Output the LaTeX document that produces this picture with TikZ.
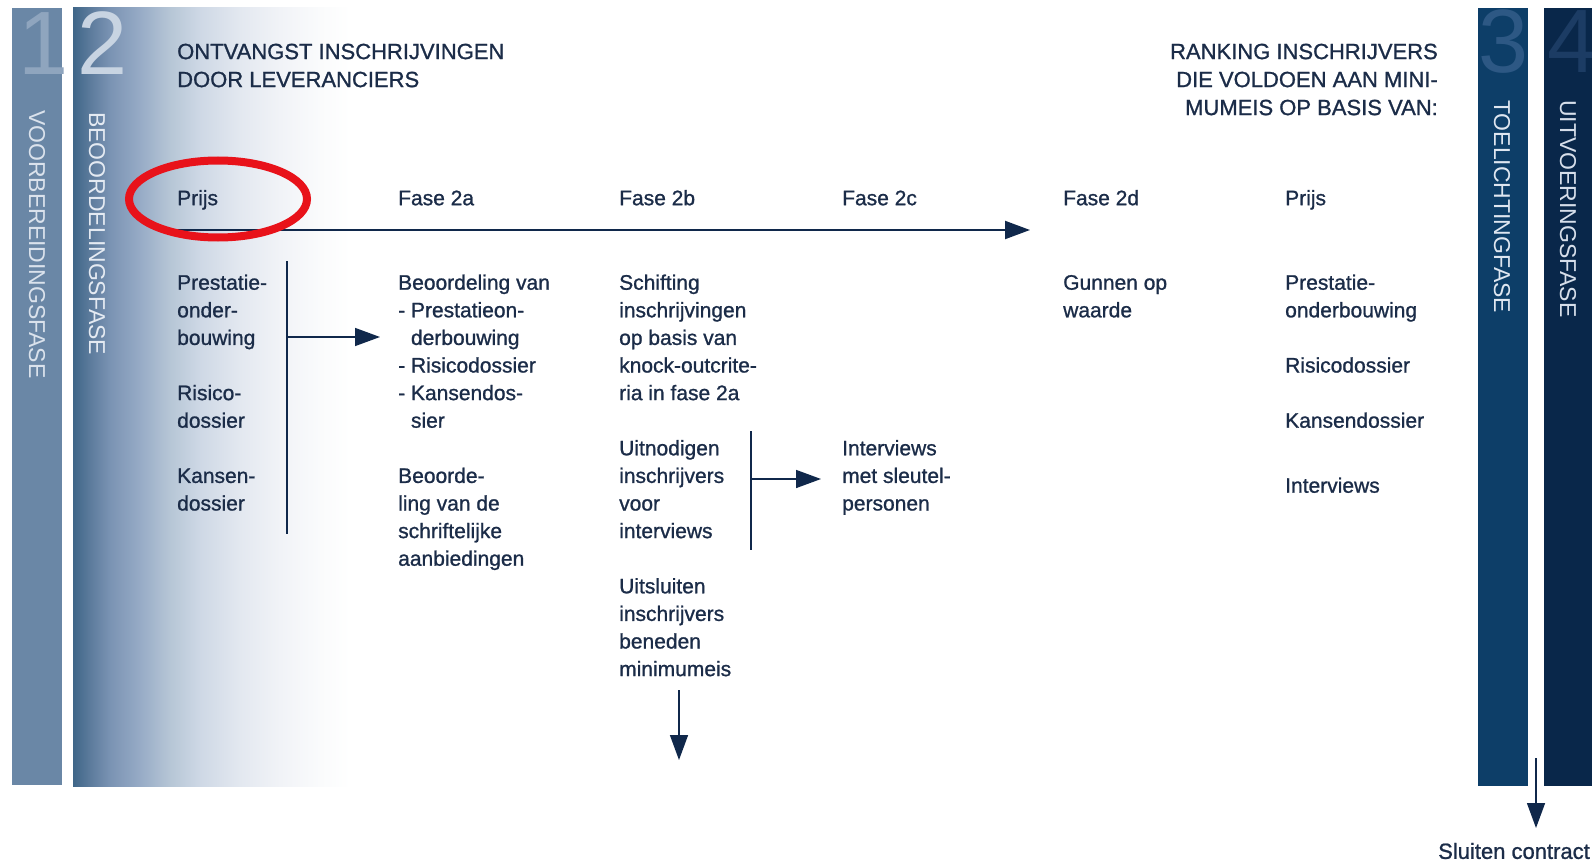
\documentclass[tikz,border=0pt]{standalone}
\usepackage{fontspec}
\setmainfont{Liberation Sans}
\newfontfamily\medfont[FakeBold=1]{Liberation Sans}
\usetikzlibrary{arrows.meta,shapes.geometric}
\definecolor{bar1}{RGB}{106,135,166}
\definecolor{bar3}{RGB}{13,62,104}
\definecolor{bar4}{RGB}{9,39,74}
\definecolor{d1}{RGB}{143,165,190}
\definecolor{d2}{RGB}{200,212,226}
\definecolor{d3}{RGB}{45,88,132}
\definecolor{d4}{RGB}{28,60,100}
\definecolor{s1}{RGB}{218,226,236}
\definecolor{s2}{RGB}{228,234,242}
\definecolor{s3}{RGB}{222,230,240}
\definecolor{s4}{RGB}{214,222,234}
\definecolor{txt}{RGB}{27,44,72}
\definecolor{arr}{RGB}{16,40,75}
\definecolor{mark}{RGB}{232,18,26}
\definecolor{g0}{RGB}{63,102,136}
\definecolor{g1}{RGB}{92,123,156}
\definecolor{g2}{RGB}{122,147,179}
\definecolor{g3}{RGB}{151,171,198}
\definecolor{g4}{RGB}{182,198,214}
\definecolor{g5}{RGB}{206,216,229}
\definecolor{g6}{RGB}{227,232,240}
\definecolor{g7}{RGB}{241,243,247}
\definecolor{g8}{RGB}{250,251,252}
\pgfdeclarehorizontalshading{bargrad}{100bp}{color(0bp)=(g0); color(25bp)=(g0); color(28.07bp)=(g1); color(31.68bp)=(g2); color(37.09bp)=(g3); color(42.51bp)=(g4); color(47.92bp)=(g5); color(55.14bp)=(g6); color(62.36bp)=(g7); color(69.58bp)=(g8); color(75bp)=(white); color(100bp)=(white)}
\begin{document}
\begin{tikzpicture}[x=1pt,y=-1pt,
  body/.style={font=\medfont\fontsize{21}{27.6}\selectfont, text=txt, inner sep=0pt, align=left, anchor=north west},
  head/.style={font=\medfont\fontsize{22}{28}\selectfont, text=txt, inner sep=0pt},
  spine/.style={font=\fontsize{23}{23}\selectfont, rotate=-90, anchor=west, inner sep=0pt},
  digit/.style={font=\fontsize{90}{90}\selectfont, anchor=base west, inner sep=0pt},
  conn/.style={draw=arr, line width=1.5pt},
  arrowline/.style={conn, -{Triangle[length=25pt,width=18pt]}},
]
\useasboundingbox (0,0) rectangle (1592,861);
\fill[white] (0,0) rectangle (1592,861);
% phase bars
\shade[shading=bargrad] (73,8) rectangle (350,786);
\fill[bar1] (12,8) rectangle (62,785);
\fill[bar3] (1478,8) rectangle (1528,786);
\fill[bar4] (1544,8) rectangle (1592,786);
% numerals
\begin{scope}
\clip (0,0) rectangle (1592,861);
\node[digit, text=d1] (n1) at (18,75) {1};
\node[digit, text=d2] (n2) at (77,75) {2};
\node[digit, text=d3] (n3) at (1478,73) {3};
\node[digit, text=d4] (n4) at (1547,73) {4};
\end{scope}
% spine labels
\node[spine, text=s1] (sp1) at (37,110) {VOORBEREIDINGSFASE};
\node[spine, text=s2] (sp2) at (97,112) {BEOORDELINGSFASE};
\node[spine, text=s3] (sp3) at (1502,100) {TOELICHTINGFASE};
\node[spine, text=s4] (sp4) at (1568,100) {UITVOERINGSFASE};
% headers
\node[head, align=left, anchor=north west] (hl) at (177,39.3) {\strut ONTVANGST INSCHRIJVINGEN\\DOOR LEVERANCIERS};
\node[head, align=right, anchor=north east] (hr) at (1438,39.3) {\strut RANKING INSCHRIJVERS\\DIE VOLDOEN AAN MINI-\\MUMEIS OP BASIS VAN:};
% phase row
\node[body] (p0) at (177,185.7) {\strut Prijs};
\node[body] (p2a) at (398,185.7) {\strut Fase 2a};
\node[body] (p2b) at (619,185.7) {\strut Fase 2b};
\node[body] (p2c) at (842,185.7) {\strut Fase 2c};
\node[body] (p2d) at (1063,185.7) {\strut Fase 2d};
\node[body] (p1) at (1285,185.7) {\strut Prijs};
% column 1
\node[body] (c1a) at (177,270.2) {\strut Prestatie-\\onder-\\bouwing};
\node[body] (c1b) at (177,380.6) {\strut Risico-\\dossier};
\node[body] (c1c) at (177,463.4) {\strut Kansen-\\dossier};
% column 2
\node[body] (c2a) at (398,270.2) {\strut Beoordeling van\\- Prestatieon-\\\hspace*{12.8pt}derbouwing\\- Risicodossier\\- Kansendos-\\\hspace*{12.8pt}sier};
\node[body] (c2b) at (398,463.4) {\strut Beoorde-\\ling van de\\schriftelijke\\aanbiedingen};
% column 3
\node[body] (c3a) at (619,270.2) {\strut Schifting\\inschrijvingen\\op basis van\\knock-outcrite-\\ria in fase 2a};
\node[body] (c3b) at (619,435.8) {\strut Uitnodigen\\inschrijvers\\voor\\interviews};
\node[body] (c3c) at (619,573.8) {\strut Uitsluiten\\inschrijvers\\beneden\\minimumeis};
% column 4
\node[body] (c4a) at (842,435.8) {\strut Interviews\\met sleutel-\\personen};
% column 5
\node[body] (c5a) at (1063,270.2) {\strut Gunnen op\\waarde};
% column 6
\node[body] (c6a) at (1285,270.2) {\strut Prestatie-\\onderbouwing};
\node[body] (c6b) at (1285,353.0) {\strut Risicodossier};
\node[body] (c6c) at (1285,408.2) {\strut Kansendossier};
\node[body] (c6d) at (1285,473.2) {\strut Interviews};
% closing
\node[head, anchor=center] (sluit) at (1514,851) {Sluiten contract};
% connectors
\coordinate (mainS) at (177,230);
\coordinate (mainE) at (1030,230);
\draw[arrowline, line width=2pt] (mainS) -- (mainE);
\coordinate (b1t) at (287,261);
\coordinate (b1b) at (287,534);
\coordinate (b1m) at (287,337);
\coordinate (b1e) at (380,337);
\draw[conn] (b1t) -- (b1b);
\draw[arrowline] (b1m) -- (b1e);
\coordinate (b2t) at (751,431);
\coordinate (b2b) at (751,550);
\coordinate (b2m) at (751,479);
\coordinate (b2e) at (821,479);
\draw[conn] (b2t) -- (b2b);
\draw[arrowline] (b2m) -- (b2e);
\coordinate (dS) at (679,690);
\coordinate (dE) at (679,760);
\draw[arrowline] (dS) -- (dE);
\coordinate (sS) at (1536,758);
\coordinate (sE) at (1536,828);
\draw[arrowline] (sS) -- (sE);
% red highlight
\node[ellipse, draw=mark, line width=8pt, minimum width=178pt, minimum height=77pt, inner sep=0pt] (hl0) at (218,199) {};
\end{tikzpicture}
\end{document}
